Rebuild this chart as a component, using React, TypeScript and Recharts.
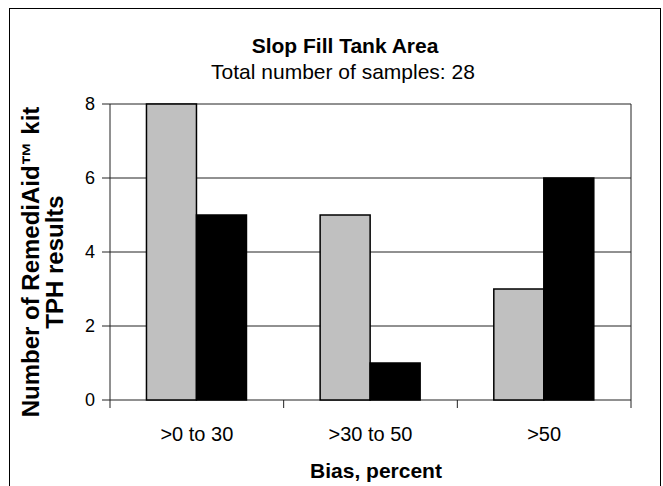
import React from 'react'
import { BarChart, Bar, XAxis, YAxis, CartesianGrid } from 'recharts'

// Bias bins and counts
const categories = ['>0 to 30', '>30 to 50', '>50']
const seriesGray = [8, 5, 3]
const seriesBlack = [5, 1, 6]
const yTicks = [0, 2, 4, 6, 8]

const data = categories.map((c, i) => ({
  bin: c,
  gray: seriesGray[i],
  black: seriesBlack[i],
}))

const font = '"Liberation Sans", Arial, sans-serif'
const lineColor = '#222'
const TICK_LEN = 8
const X_LABEL_GAP = 21
const Y_LABEL_GAP = 7

// category label plus tick marks on the category boundaries
const XTick = (props: any) => {
  const { x, y, payload, width, index, visibleTicksCount } = props
  const band = width / visibleTicksCount
  const axisY = y - X_LABEL_GAP
  const left = x - band / 2
  const right = x + band / 2
  return (
    <g>
      <line x1={left} x2={left} y1={axisY} y2={axisY + TICK_LEN} stroke={lineColor} />
      {index === visibleTicksCount - 1 && (
        <line x1={right} x2={right} y1={axisY} y2={axisY + TICK_LEN} stroke={lineColor} />
      )}
      <text x={x} y={y} dy={20} textAnchor="middle" fontSize={20} fontFamily={font} fill="#000">
        {payload.value}
      </text>
    </g>
  )
}

const YTick = (props: any) => {
  const { x, y, payload } = props
  const axisX = x + Y_LABEL_GAP + TICK_LEN
  return (
    <g>
      <line x1={axisX - TICK_LEN} x2={axisX} y1={y} y2={y} stroke={lineColor} />
      <text x={x} y={y} dy="0.355em" textAnchor="end" fontSize={18} fontFamily={font} fill="#000">
        {payload.value}
      </text>
    </g>
  )
}

export default function App() {
  return (
    <div style={{ position: 'absolute', left: 0, top: 0, width: 663, height: 486, background: '#fff', overflow: 'hidden' }}>
      <div style={{ position: 'absolute', left: 0, top: 0 }}>
        <BarChart
          width={663}
          height={486}
          data={data}
          margin={{ top: 104, right: 32, bottom: 46, left: 50 }}
          barCategoryGap="21%"
          barGap={0}
        >
          <CartesianGrid
            stroke={lineColor}
            verticalCoordinatesGenerator={({ offset }: any) => [offset.left, offset.left + offset.width]}
          />
          <XAxis
            dataKey="bin"
            axisLine={false}
            tickLine={false}
            height={40}
            tickSize={0}
            tickMargin={X_LABEL_GAP}
            tick={<XTick />}
          />
          <YAxis
            domain={[0, 8]}
            ticks={yTicks}
            width={60}
            tickSize={TICK_LEN}
            tickMargin={Y_LABEL_GAP}
            axisLine={false}
            tickLine={false}
            tick={<YTick />}
          />
          <Bar dataKey="gray" fill="#c0c0c0" stroke="#000" strokeWidth={1.5} isAnimationActive={false} />
          <Bar dataKey="black" fill="#000" stroke="#000" strokeWidth={1.5} isAnimationActive={false} />
        </BarChart>
      </div>
      <svg
        width={663}
        height={486}
        style={{ position: 'absolute', left: 0, top: 0, pointerEvents: 'none', fontFamily: font }}
      >
        <rect x={9.5} y={8.5} width={651} height={500} fill="none" stroke="#000" />
        <text x={345} y={53} textAnchor="middle" fontSize={21} fontWeight="bold">Slop Fill Tank Area</text>
        <text x={343} y={79} textAnchor="middle" fontSize={21}>Total number of samples: 28</text>
        <g transform="translate(0,262) rotate(-90)">
          <text x={0} y={39} textAnchor="middle" fontSize={24} fontWeight="bold">Number of RemediAid™ kit</text>
          <text x={0} y={63} textAnchor="middle" fontSize={24} fontWeight="bold">TPH results</text>
        </g>
        <text x={376} y={478} textAnchor="middle" fontSize={21} fontWeight="bold">Bias, percent</text>
      </svg>
    </div>
  )
}
